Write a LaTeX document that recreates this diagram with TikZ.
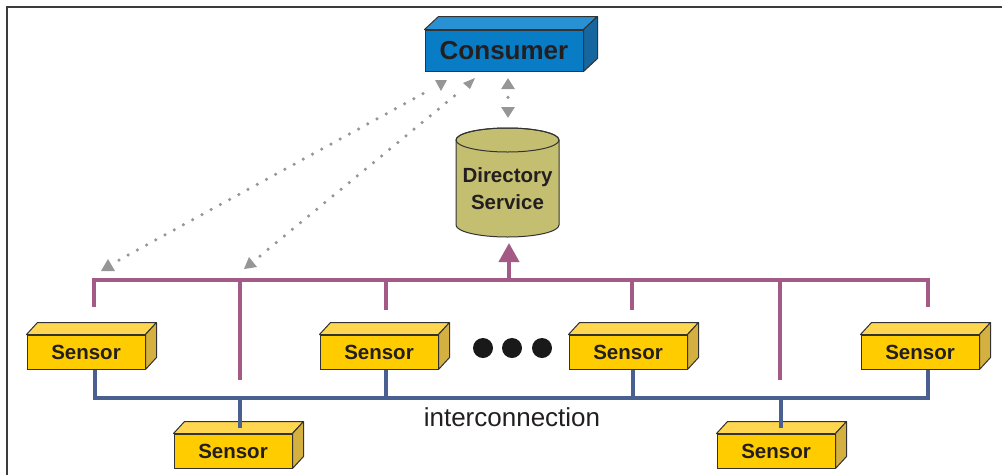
\documentclass[tikz,border=0pt]{standalone}
\usepackage{fontspec}
\setmainfont{Liberation Sans}
\usetikzlibrary{arrows.meta,calc}
\definecolor{txt}{RGB}{35,31,32}
\definecolor{edge}{RGB}{50,50,50}
\definecolor{conF}{RGB}{8,124,196}
\definecolor{conT}{RGB}{40,145,212}
\definecolor{conS}{RGB}{22,102,160}
\definecolor{senF}{RGB}{255,204,0}
\definecolor{senT}{RGB}{255,214,80}
\definecolor{senS}{RGB}{212,176,64}
\definecolor{dirF}{RGB}{196,191,112}
\definecolor{pbusC}{RGB}{163,91,133}
\definecolor{netC}{RGB}{74,96,145}
\definecolor{dotC}{RGB}{150,150,150}
\definecolor{frameC}{RGB}{60,60,60}
\newcommand\boxfaces[5]{%
  \draw[face, fill=#4] (#1.north west) -- ++(#2,-#3) -- ($(#1.north east)+(#2,-#3)$) -- (#1.north east) -- cycle;
  \draw[face, fill=#5] (#1.north east) -- ++(#2,-#3) -- ($(#1.south east)+(#2,-#3)$) -- (#1.south east) -- cycle;}
\begin{document}
\begin{tikzpicture}[x=1pt,y=-1pt,
  face/.style={draw=edge, line width=1pt, line join=round},
  box3d/.style={draw=edge, line width=1pt, text=txt, inner sep=0pt},
  consumer/.style={box3d, fill=conF, minimum width=158pt, minimum height=41pt, font=\bfseries\fontsize{26}{30}\selectfont},
  sensor/.style={box3d, fill=senF, minimum width=118pt, minimum height=34pt, font=\bfseries\fontsize{20.5}{24}\selectfont},
  dirtext/.style={text=txt, align=center, inner sep=0pt, font=\bfseries\fontsize{20.5}{27}\selectfont},
  pbus/.style={draw=pbusC, line width=4pt},
  net/.style={draw=netC, line width=4pt},
  dotline/.style={draw=dotC, line width=3.5pt, line cap=round, dash pattern=on 0pt off 10.5pt},
  tri/.style={fill=dotC},
  bigdot/.style={circle, fill=black!90, minimum size=20pt, inner sep=0pt},
  frame/.style={draw=frameC, line width=1.2pt}
]
\useasboundingbox (0,0) rectangle (1002,475);
\draw[frame] (1002,7) -- (7,7) -- (7,475);

% consumer
\node[consumer] (con) at (504,50.5) {Consumer};
\boxfaces{con}{14}{13}{conT}{conS}

% directory service cylinder
\draw[face, fill=dirF] (456,140) -- (456,225) arc[start angle=180, end angle=360, x radius=51.5pt, y radius=12pt] -- (559,140) arc[start angle=0, end angle=180, x radius=51.5pt, y radius=12pt] -- cycle;
\draw[face] (507.5,140) ellipse[x radius=51.5pt, y radius=12pt];
\node[dirtext] (dir) at (507.5,189) {Directory\\Service};
\coordinate (dirtop) at (508,128);
\coordinate (dirbot) at (509,237);
\coordinate (conbot) at (508,71);

% sensors
\node[sensor] (s1) at (86,352) {Sensor};
\node[sensor] (s2) at (233,451) {Sensor};
\node[sensor] (s3) at (379,352) {Sensor};
\node[sensor] (s4) at (628,352) {Sensor};
\node[sensor] (s5) at (776,451) {Sensor};
\node[sensor] (s6) at (920,352) {Sensor};
\foreach \s in {s1,s2,s3,s4,s5,s6}{\boxfaces{\s}{11}{12}{senT}{senS}}

% dots
\node[bigdot] (d1) at (483,348) {};
\node[bigdot] (d2) at (512,348) {};
\node[bigdot] (d3) at (542,348) {};

% purple bus
\coordinate (busmid) at (509,280);
\draw[pbus] (94,307) -- (94,280) -- (928,280) -- (928,307);
\draw[pbus] (240,280) -- (240,380);
\draw[pbus] (386,280) -- (386,310);
\draw[pbus] (632,280) -- (632,310);
\draw[pbus] (780,280) -- (780,380);
\draw[pbus, -{Triangle[width=20pt,length=19pt]}, shorten >=6pt] (busmid) -- (dirbot);

% interconnection network
\draw[net] (95,0 |- s1.south) |- (928,398) -- (928,0 |- s6.south);
\draw[net] (240,398) -- ($(240,0 |- s2.north)+(0,-6)$);
\draw[net] (386,398) -- (386,0 |- s3.south);
\draw[net] (633,398) -- (633,0 |- s4.south);
\draw[net] (781,398) -- ($(781,0 |- s5.north)+(0,-6)$);
\node[text=txt, inner sep=0pt, font=\fontsize{26}{30}\selectfont] (ic) at (512,417) {interconnection};

% dotted links consumer <-> sensors
\coordinate (a1) at (119,260);
\coordinate (b1) at (428,91);
\coordinate (a2) at (260,256);
\coordinate (b2) at (458,93);
\draw[dotline] (a1) -- (b1);
\draw[dotline] (a2) -- (b2);
\fill[tri] (435,80) -- (447,80) -- (441,91) -- cycle;
\fill[tri] (463,83) -- (475,78) -- (470,89) -- cycle;
\fill[tri] (101,271) -- (115,271) -- (108,259) -- cycle;
\fill[tri] (244,269) -- (257,267) -- (249,257) -- cycle;

% dotted link consumer <-> directory
\draw[draw=dotC, line width=3.5pt, line cap=round, dash pattern=on 0pt off 18pt, dash phase=9pt,
  {Triangle[width=13pt,length=11pt]}-{Triangle[width=13pt,length=11pt]},
  shorten <=7pt, shorten >=10pt] (conbot) -- (dirtop);
\end{tikzpicture}
\end{document}
